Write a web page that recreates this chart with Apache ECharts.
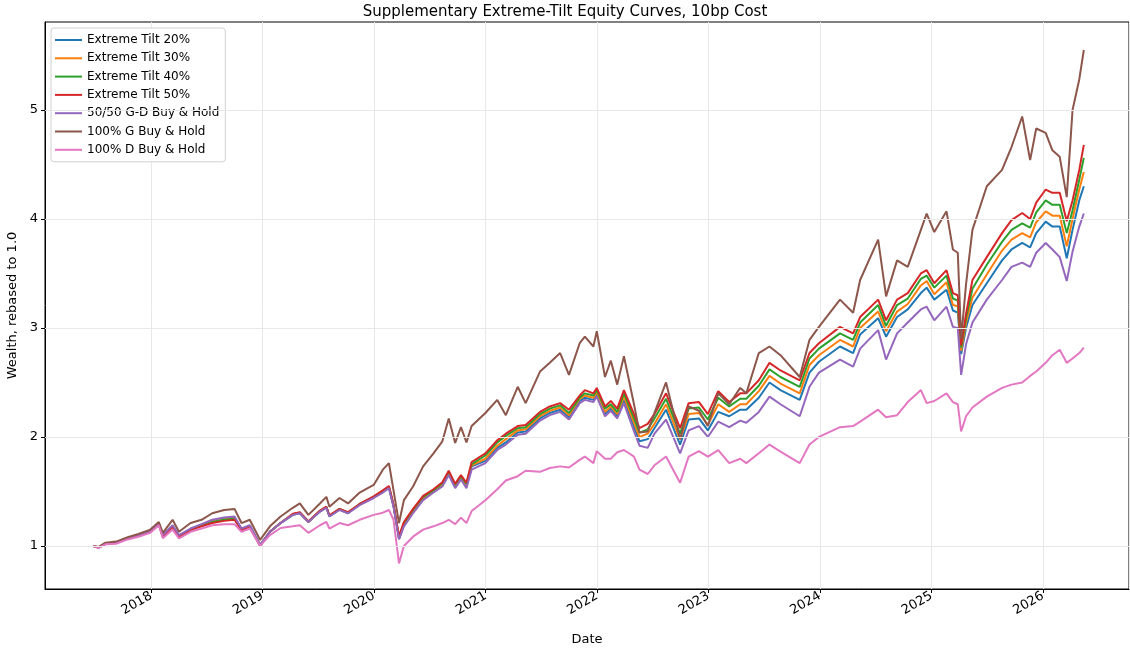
<!DOCTYPE html>
<html>
<head>
<meta charset="utf-8">
<script src="https://cdn.jsdelivr.net/npm/echarts@6/dist/echarts.min.js"></script>
<style>
  html, body { margin: 0; padding: 0; background: #fff; }
  #chart { width: 1130px; height: 650px; }
</style>
</head>
<body>
<div id="chart"></div>
<script>
// sample dates (irregular)
const dates = [
  "2017-06-26","2017-07-12","2017-08-04","2017-09-08","2017-10-16","2017-11-20","2017-12-29","2018-01-26","2018-02-08","2018-03-12",
  "2018-04-02","2018-05-10","2018-06-15","2018-07-20","2018-08-28","2018-10-01","2018-10-24","2018-11-20","2018-12-24","2019-01-25",
  "2019-03-01","2019-04-10","2019-05-03","2019-05-31","2019-07-08","2019-07-29","2019-08-08","2019-09-10","2019-10-08","2019-11-15",
  "2019-12-31","2020-01-30","2020-02-19","2020-03-05","2020-03-23","2020-04-08","2020-05-08","2020-06-10","2020-07-14","2020-08-12",
  "2020-09-02","2020-09-23","2020-10-12","2020-10-30","2020-11-16","2020-12-31","2021-02-08","2021-03-08","2021-04-16","2021-05-12",
  "2021-06-28","2021-07-30","2021-09-02","2021-10-01","2021-11-05","2021-11-22","2021-12-20","2021-12-31","2022-01-27","2022-02-15",
  "2022-03-08","2022-03-30","2022-05-02","2022-05-20","2022-06-16","2022-07-08","2022-08-15","2022-09-30","2022-10-28","2022-12-01",
  "2022-12-30","2023-02-02","2023-03-10","2023-04-15","2023-05-05","2023-06-15","2023-07-20","2023-08-25","2023-10-27","2023-11-28",
  "2023-12-29","2024-03-07","2024-04-19","2024-05-12","2024-07-10","2024-08-05","2024-09-10","2024-10-15","2024-11-27","2024-12-16",
  "2025-01-10","2025-02-19","2025-03-12","2025-03-28","2025-04-08","2025-04-24","2025-05-15","2025-07-01","2025-08-20","2025-09-20",
  "2025-10-25","2025-11-20","2025-12-10","2026-01-10","2026-02-01","2026-02-25","2026-03-20","2026-04-08","2026-04-30","2026-05-15"
];

const tilt20 = [
  1.00,0.985,1.02,1.03,1.07,1.10,1.14,1.205,1.095,1.185,
  1.095,1.155,1.195,1.23,1.25,1.26,1.155,1.185,1.01,1.13,
  1.21,1.285,1.30,1.22,1.315,1.355,1.27,1.335,1.30,1.38,
  1.445,1.495,1.535,1.365,1.065,1.19,1.31,1.43,1.50,1.555,
  1.66,1.54,1.62,1.55,1.73,1.78,1.90,1.95,2.04,2.05,
  2.17,2.22,2.25,2.18,2.33,2.36,2.34,2.39,2.21,2.26,
  2.19,2.34,2.09,1.96,1.98,2.08,2.25,1.93,2.16,2.17,
  2.06,2.23,2.19,2.25,2.25,2.36,2.50,2.43,2.34,2.59,
  2.69,2.83,2.77,2.94,3.09,2.92,3.10,3.17,3.32,3.37,
  3.26,3.35,3.16,3.14,2.76,3.00,3.21,3.41,3.62,3.72,
  3.78,3.74,3.87,3.975,3.93,3.93,3.64,3.90,4.17,4.30
];
const tilt30 = [
  1.00,0.985,1.02,1.03,1.07,1.10,1.135,1.20,1.09,1.18,
  1.09,1.15,1.19,1.225,1.245,1.255,1.15,1.18,1.005,1.13,
  1.21,1.29,1.305,1.22,1.32,1.355,1.275,1.335,1.305,1.38,
  1.445,1.50,1.54,1.37,1.07,1.20,1.32,1.44,1.505,1.565,
  1.67,1.55,1.63,1.56,1.74,1.80,1.92,1.98,2.06,2.07,
  2.19,2.24,2.27,2.20,2.35,2.38,2.36,2.41,2.23,2.28,
  2.21,2.37,2.13,2.00,2.03,2.12,2.30,1.98,2.21,2.22,
  2.11,2.30,2.23,2.30,2.30,2.42,2.56,2.49,2.40,2.66,
  2.75,2.89,2.83,3.00,3.15,2.97,3.15,3.22,3.39,3.43,
  3.31,3.42,3.21,3.20,2.79,3.05,3.28,3.49,3.71,3.81,
  3.87,3.83,3.97,4.07,4.03,4.03,3.75,4.00,4.27,4.43
];
const tilt40 = [
  1.00,0.985,1.02,1.03,1.07,1.095,1.135,1.20,1.09,1.18,
  1.085,1.15,1.185,1.22,1.24,1.25,1.15,1.18,1.005,1.13,
  1.21,1.29,1.305,1.225,1.32,1.36,1.275,1.34,1.305,1.385,
  1.45,1.505,1.545,1.375,1.08,1.21,1.33,1.45,1.51,1.575,
  1.68,1.56,1.64,1.57,1.75,1.83,1.95,2.01,2.08,2.09,
  2.21,2.26,2.29,2.22,2.36,2.40,2.38,2.43,2.26,2.30,
  2.23,2.40,2.17,2.04,2.07,2.17,2.35,2.03,2.26,2.27,
  2.16,2.36,2.28,2.35,2.35,2.47,2.62,2.55,2.46,2.72,
  2.81,2.95,2.89,3.05,3.21,3.02,3.21,3.27,3.45,3.48,
  3.37,3.48,3.27,3.25,2.82,3.09,3.36,3.58,3.79,3.90,
  3.96,3.92,4.06,4.17,4.13,4.13,3.87,4.08,4.36,4.56
];
const tilt50 = [
  1.00,0.985,1.02,1.03,1.07,1.095,1.13,1.195,1.085,1.175,
  1.08,1.145,1.18,1.21,1.23,1.24,1.145,1.175,1.00,1.13,
  1.21,1.295,1.31,1.225,1.325,1.36,1.28,1.34,1.31,1.385,
  1.455,1.51,1.55,1.38,1.09,1.22,1.34,1.46,1.52,1.585,
  1.69,1.57,1.65,1.58,1.77,1.85,1.97,2.03,2.10,2.11,
  2.23,2.28,2.31,2.25,2.38,2.43,2.40,2.45,2.28,2.33,
  2.26,2.43,2.21,2.08,2.12,2.21,2.40,2.08,2.31,2.32,
  2.21,2.42,2.32,2.40,2.40,2.52,2.68,2.61,2.52,2.77,
  2.86,3.01,2.95,3.10,3.26,3.07,3.26,3.32,3.50,3.53,
  3.41,3.53,3.32,3.30,2.84,3.13,3.44,3.65,3.87,3.99,
  4.055,4.00,4.15,4.27,4.24,4.24,3.98,4.17,4.45,4.68
];
const mix5050 = [
  1.00,0.985,1.02,1.03,1.07,1.10,1.14,1.21,1.10,1.19,
  1.10,1.16,1.20,1.24,1.26,1.27,1.16,1.19,1.01,1.13,
  1.21,1.285,1.30,1.22,1.315,1.35,1.27,1.33,1.30,1.375,
  1.44,1.49,1.53,1.36,1.06,1.18,1.30,1.42,1.49,1.545,
  1.65,1.53,1.61,1.53,1.70,1.76,1.88,1.93,2.02,2.03,
  2.15,2.20,2.23,2.16,2.31,2.34,2.32,2.37,2.19,2.24,
  2.17,2.31,2.05,1.92,1.90,2.03,2.16,1.85,2.06,2.10,
  2.00,2.14,2.09,2.15,2.13,2.23,2.37,2.30,2.19,2.46,
  2.59,2.71,2.645,2.81,2.98,2.71,2.95,3.05,3.17,3.195,
  3.07,3.195,3.01,3.00,2.57,2.85,3.05,3.26,3.44,3.56,
  3.60,3.56,3.69,3.78,3.72,3.65,3.43,3.70,3.93,4.05
];
const growthOnly = [
  1.00,0.99,1.03,1.04,1.08,1.11,1.15,1.22,1.12,1.24,
  1.13,1.21,1.24,1.30,1.33,1.34,1.21,1.24,1.055,1.18,
  1.27,1.35,1.39,1.285,1.39,1.45,1.36,1.44,1.39,1.49,
  1.56,1.70,1.76,1.51,1.21,1.42,1.545,1.73,1.85,1.96,
  2.17,1.945,2.09,1.95,2.10,2.22,2.34,2.20,2.46,2.31,
  2.60,2.68,2.77,2.57,2.86,2.92,2.83,2.97,2.55,2.70,
  2.48,2.74,2.30,2.04,2.05,2.22,2.50,1.98,2.28,2.24,
  2.10,2.40,2.30,2.45,2.40,2.77,2.83,2.75,2.55,2.89,
  3.01,3.26,3.14,3.44,3.81,3.29,3.62,3.56,3.90,4.05,
  3.88,4.07,3.72,3.69,2.90,3.40,3.90,4.30,4.45,4.66,
  4.94,4.54,4.83,4.79,4.63,4.57,4.20,5.00,5.28,5.55
];
const dividendOnly = [
  1.00,0.98,1.015,1.02,1.06,1.085,1.12,1.19,1.07,1.15,
  1.07,1.13,1.16,1.19,1.20,1.20,1.13,1.16,1.00,1.10,
  1.165,1.18,1.19,1.12,1.19,1.22,1.16,1.21,1.19,1.24,
  1.285,1.305,1.33,1.24,0.84,1.00,1.085,1.15,1.18,1.21,
  1.24,1.20,1.26,1.21,1.32,1.42,1.52,1.60,1.64,1.69,
  1.68,1.715,1.73,1.72,1.79,1.82,1.76,1.87,1.80,1.80,
  1.86,1.88,1.82,1.70,1.66,1.74,1.82,1.58,1.82,1.87,
  1.82,1.88,1.76,1.80,1.76,1.85,1.93,1.865,1.76,1.93,
  2.00,2.09,2.10,2.14,2.25,2.18,2.20,2.32,2.43,2.31,
  2.33,2.40,2.32,2.30,2.05,2.19,2.27,2.37,2.45,2.48,
  2.50,2.56,2.60,2.68,2.75,2.80,2.68,2.72,2.77,2.82
];

const seriesNames = [
  "Extreme Tilt 20%", "Extreme Tilt 30%", "Extreme Tilt 40%", "Extreme Tilt 50%",
  "50/50 G-D Buy & Hold", "100% G Buy & Hold", "100% D Buy & Hold"
];
const seriesValues = [tilt20, tilt30, tilt40, tilt50, mix5050, growthOnly, dividendOnly];
const colors = ["#1f77b4", "#ff7f0e", "#2ca02c", "#d62728", "#9467bd", "#8c564b", "#e377c2"];
const yTicks = [1, 2, 3, 4, 5];

const FONT = "DejaVu Sans";
const YEAR = 365.25 * 24 * 3600 * 1000;

const chart = echarts.init(document.getElementById("chart"));

const series = seriesNames.map((name, i) => ({
  name: name,
  type: "line",
  symbol: "none",
  showSymbol: false,
  animation: false,
  lineStyle: { width: 2, color: colors[i] },
  itemStyle: { color: colors[i] },
  data: dates.map((d, k) => [d, seriesValues[i][k]]),
}));

chart.setOption({
  animation: false,
  textStyle: { fontFamily: FONT },
  title: {
    text: "Supplementary Extreme-Tilt Equity Curves, 10bp Cost",
    left: "center",
    top: 0,
    textStyle: { fontFamily: FONT, fontSize: 15, fontWeight: "normal", color: "#000" },
  },
  legend: {
    orient: "vertical",
    left: 51,
    top: 28,
    icon: "rect",
    itemWidth: 27,
    itemHeight: 2,
    itemGap: 6.3,
    padding: [6, 6, 6, 4],
    backgroundColor: "#fff",
    borderColor: "#d0d0d0",
    borderWidth: 1,
    borderRadius: 3,
    textStyle: { fontFamily: FONT, fontSize: 12, color: "#000" },
    data: seriesNames,
  },
  grid: {
    left: 45,
    right: 1,
    top: 22,
    bottom: 61,
    containLabel: false,
    outerBoundsMode: "none",
    show: true,
    borderColor: "#000",
    borderWidth: 1,
  },
  xAxis: {
    type: "time",
    min: "2017-01-18",
    max: "2026-10-10",
    minInterval: YEAR * 0.9,
    maxInterval: YEAR * 1.1,
    name: "Date",
    nameLocation: "middle",
    nameGap: 44,
    nameTextStyle: { fontFamily: FONT, fontSize: 13, color: "#000" },
    axisLine: { lineStyle: { color: "#000", width: 1 } },
    axisTick: { length: 4, lineStyle: { color: "#000" } },
    axisLabel: {
      rotate: 30,
      formatter: "{yyyy}",
      fontFamily: FONT,
      fontSize: 13,
      color: "#000",
      margin: 6,
      showMinLabel: false,
      showMaxLabel: false,
    },
    splitLine: { show: true, lineStyle: { color: "#e8e8e8", width: 1 } },
  },
  yAxis: {
    type: "value",
    min: 0.605,
    max: 5.807,
    name: "Wealth, rebased to 1.0",
    nameLocation: "middle",
    nameGap: 24,
    nameTextStyle: { fontFamily: FONT, fontSize: 13, color: "#000" },
    axisLine: { show: true, lineStyle: { color: "#000", width: 1 } },
    axisTick: { show: true, length: 4, lineStyle: { color: "#000" }, customValues: yTicks },
    axisLabel: { fontFamily: FONT, fontSize: 13, color: "#000", margin: 7, customValues: yTicks },
    splitLine: { show: false },
  },
  series: series.concat([{
    name: "grid",
    type: "line",
    data: [],
    silent: true,
    z: 0,
    markLine: {
      silent: true,
      symbol: "none",
      label: { show: false },
      lineStyle: { color: "#e8e8e8", width: 1, type: "solid" },
      data: yTicks.map(v => ({ yAxis: v })),
    },
  }]),
});
</script>
</body>
</html>
